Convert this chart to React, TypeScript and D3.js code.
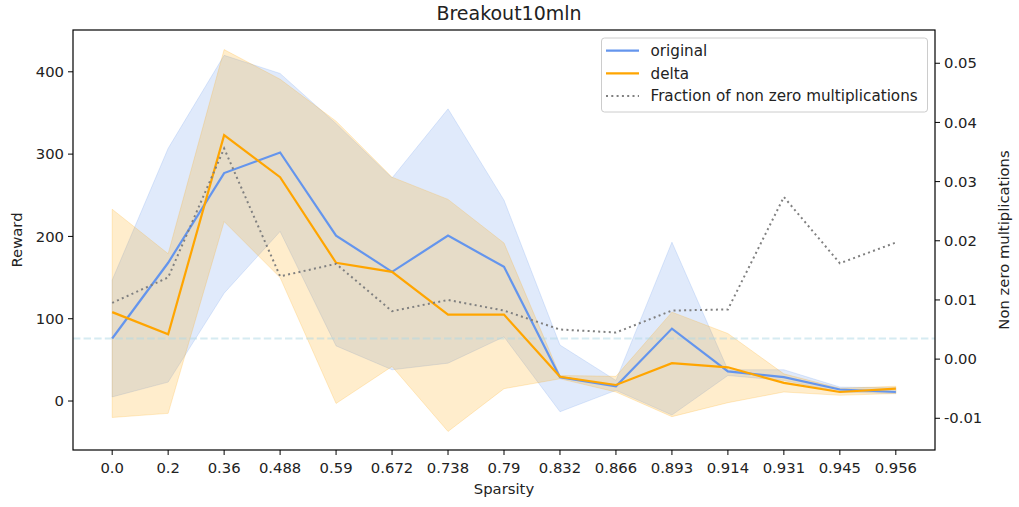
import React from "react";
import * as d3 from "d3";

const sparsity = ["0.0","0.2","0.36","0.488","0.59","0.672","0.738","0.79","0.832","0.866","0.893","0.914","0.931","0.945","0.956"];

const originalMean = [76, 168, 277, 302, 201, 157, 201, 163, 29, 18, 88, 36, 29, 14, 11];
const originalUpper = [147, 307, 420, 398, 337, 271, 355, 244, 68, 25, 193, 38, 38, 17, 16];
const originalLower = [5, 23, 131, 206, 67, 38, 46, 78, -13, 13, -17, 31, 25, 11, 9];

const deltaMean = [108, 81, 323, 272, 168, 157, 105, 105, 29.5, 19.5, 46, 41, 22, 11, 15];
const deltaUpper = [233, 179, 427, 391, 340, 272, 245, 192, 31, 30, 108, 82, 33, 15.4, 18];
const deltaLower = [-20, -15, 218, 150, -3, 42, -37, 15, 27, 11, -19, -2, 11, 7, 9];

const fraction = [0.0095, 0.0138, 0.0356, 0.0140, 0.0161, 0.0081, 0.0100, 0.0082, 0.0050, 0.0045, 0.0082, 0.0084, 0.0274, 0.0162, 0.0197];

const baseline = 76;

const leftTicks = [0, 100, 200, 300, 400];
const rightTicks = [-0.01, 0.0, 0.01, 0.02, 0.03, 0.04, 0.05];

const W = 1019, H = 507;
const L = 73, R = 935, T = 30, B = 450;
const FONT = "DejaVu Sans";
const FS = 14.8;
const LFS = 15.2;

export default function App() {
  const x = d3.scalePoint<string>().domain(sparsity).range([L, R]).padding(0.7);
  const y = d3.scaleLinear().domain([-59.5, 450.8]).range([B, T]);
  const y2 = d3.scaleLinear().domain([-0.01536, 0.05562]).range([B, T]);

  const idx = d3.range(sparsity.length);
  const line = (vals: number[], sc: d3.ScaleLinear<number, number>) =>
    d3.line<number>().x(i => x(sparsity[i])!).y(i => sc(vals[i]))(idx)!;
  const area = (lo: number[], hi: number[]) =>
    d3.area<number>().x(i => x(sparsity[i])!).y0(i => y(lo[i])).y1(i => y(hi[i]))(idx)!;

  const blue = "#6495ED";
  const orange = "#FFA500";

  return (
    <svg width={W} height={H} style={{ position: "absolute", left: 0, top: 0, background: "#fff" }} fontFamily={FONT}>
      <defs>
        <clipPath id="plot"><rect x={L} y={T} width={R - L} height={B - T} /></clipPath>
      </defs>
      <g clipPath="url(#plot)">
        <path d={area(originalLower, originalUpper)} fill={blue} fillOpacity={0.2} stroke={blue} strokeOpacity={0.2} strokeWidth={1} />
        <path d={area(deltaLower, deltaUpper)} fill={orange} fillOpacity={0.2} stroke={orange} strokeOpacity={0.2} strokeWidth={1} />
        <line x1={L} x2={R} y1={y(baseline)} y2={y(baseline)} stroke="#add8e6" strokeOpacity={0.5} strokeWidth={2} strokeDasharray="7.4,3.2" />
        <path d={line(originalMean, y)} fill="none" stroke={blue} strokeWidth={2.2} />
        <path d={line(deltaMean, y)} fill="none" stroke={orange} strokeWidth={2.2} />
        <path d={line(fraction, y2)} fill="none" stroke="#808080" strokeWidth={2} strokeDasharray="2,3.3" />
      </g>
      <rect x={L} y={T} width={R - L} height={B - T} fill="none" stroke="#000" strokeWidth={1.2} />
      {sparsity.map(s => (
        <g key={s} transform={`translate(${x(s)},${B})`}>
          <line y1={0} y2={5} stroke="#000" strokeWidth={1} />
          <text y={23} textAnchor="middle" fontSize={FS} fill="#222">{s}</text>
        </g>
      ))}
      {leftTicks.map(t => (
        <g key={t} transform={`translate(${L},${y(t)})`}>
          <line x1={0} x2={-5} stroke="#000" strokeWidth={1} />
          <text x={-9} dy="0.35em" textAnchor="end" fontSize={FS} fill="#222">{t}</text>
        </g>
      ))}
      {rightTicks.map(t => (
        <g key={t} transform={`translate(${R},${y2(t)})`}>
          <line x1={0} x2={5} stroke="#000" strokeWidth={1} />
          <text x={9} dy="0.35em" textAnchor="start" fontSize={FS} fill="#222">{t.toFixed(2)}</text>
        </g>
      ))}
      <text x={(L + R) / 2 + 5} y={20} textAnchor="middle" fontSize={19} fill="#222">Breakout10mln</text>
      <text x={(L + R) / 2} y={494} textAnchor="middle" fontSize={FS} fill="#222">Sparsity</text>
      <text transform={`translate(22,${(T + B) / 2}) rotate(-90)`} textAnchor="middle" fontSize={FS} fill="#222">Reward</text>
      <text transform={`translate(999,${(T + B) / 2}) rotate(-90)`} textAnchor="middle" fontSize={FS} fill="#222" dy="0.7em">Non zero multiplications</text>
      <g>
        <rect x={601.5} y={38} width={326} height={74} rx={3} fill="#fff" fillOpacity={0.8} stroke="#cccccc" strokeWidth={1} />
        <line x1={606} x2={639} y1={50.7} y2={50.7} stroke={blue} strokeWidth={2.2} />
        <text x={650.5} y={50.7} dy="0.35em" fontSize={LFS} fill="#222">original</text>
        <line x1={606} x2={639} y1={73.3} y2={73.3} stroke={orange} strokeWidth={2.2} />
        <text x={650.5} y={73.3} dy="0.35em" fontSize={LFS} fill="#222">delta</text>
        <line x1={606} x2={639} y1={96} y2={96} stroke="#808080" strokeWidth={2} strokeDasharray="2,3.3" />
        <text x={650.5} y={96} dy="0.35em" fontSize={LFS} fill="#222">Fraction of non zero multiplications</text>
      </g>
    </svg>
  );
}
